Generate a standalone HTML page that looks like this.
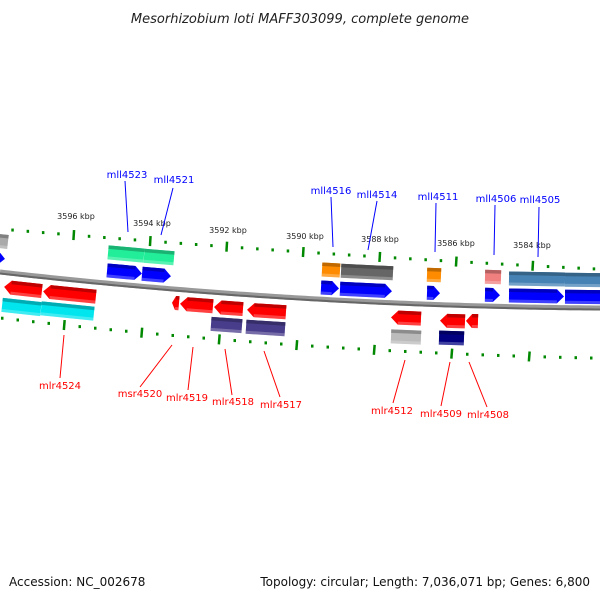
<!DOCTYPE html>
<html><head><meta charset="utf-8"><style>
html,body{margin:0;padding:0;background:#fff;}
svg{display:block;font-family:"DejaVu Sans","Liberation Sans",sans-serif;}
</style></head><body>
<svg id="s" width="600" height="600" viewBox="0 0 600 600" xmlns="http://www.w3.org/2000/svg">
<text x="300" y="23" text-anchor="middle" font-size="13" font-style="italic" fill="#222">Mesorhizobium loti MAFF303099, complete genome</text>
<text x="9" y="586" font-size="12" fill="#111">Accession: NC_002678</text>
<text x="590" y="586" text-anchor="end" font-size="12" fill="#111">Topology: circular; Length: 7,036,071 bp; Genes: 6,800</text>
<g font-size="8" fill="#222">
<text x="76" y="219" text-anchor="middle">3596 kbp</text>
<text x="152" y="226" text-anchor="middle">3594 kbp</text>
<text x="228" y="233" text-anchor="middle">3592 kbp</text>
<text x="305" y="239" text-anchor="middle">3590 kbp</text>
<text x="380" y="242" text-anchor="middle">3588 kbp</text>
<text x="456" y="246" text-anchor="middle">3586 kbp</text>
<text x="532" y="248" text-anchor="middle">3584 kbp</text>
</g>
<g font-size="10" fill="#00f" text-anchor="middle">
<text x="127" y="178">mll4523</text>
<text x="174" y="183">mll4521</text>
<text x="331" y="194">mll4516</text>
<text x="377" y="198">mll4514</text>
<text x="438" y="200">mll4511</text>
<text x="496" y="202">mll4506</text>
<text x="540" y="203">mll4505</text>
</g>
<g stroke="#00f" stroke-width="1">
<line x1="125" y1="181" x2="128" y2="232"/>
<line x1="173" y1="188" x2="161" y2="235"/>
<line x1="331" y1="197" x2="333" y2="247"/>
<line x1="377" y1="201" x2="368" y2="250"/>
<line x1="436" y1="203" x2="435" y2="252"/>
<line x1="495" y1="205" x2="494" y2="255"/>
<line x1="539" y1="207" x2="538" y2="257"/>
</g>
<g font-size="10" fill="#f00" text-anchor="middle">
<text x="60" y="389">mlr4524</text>
<text x="140" y="397">msr4520</text>
<text x="187" y="401">mlr4519</text>
<text x="233" y="405">mlr4518</text>
<text x="281" y="408">mlr4517</text>
<text x="392" y="414">mlr4512</text>
<text x="441" y="417">mlr4509</text>
<text x="488" y="418">mlr4508</text>
</g>
<g stroke="#f00" stroke-width="1">
<line x1="64" y1="335" x2="60" y2="378"/>
<line x1="172" y1="345" x2="140" y2="387"/>
<line x1="193" y1="347" x2="188" y2="390"/>
<line x1="225" y1="349" x2="232" y2="395"/>
<line x1="264" y1="351" x2="280" y2="397"/>
<line x1="405" y1="360" x2="393" y2="403"/>
<line x1="450" y1="362" x2="441" y2="406"/>
<line x1="469" y1="362" x2="487" y2="407"/>
</g>
<g id="g"></g>
</svg>
<script>
(function(){
var NS="http://www.w3.org/2000/svg",G=document.getElementById("g");
function el(t,a,p){var e=document.createElementNS(NS,t);for(var k in a)e.setAttribute(k,a[k]);(p||G).appendChild(e);return e;}
function fT(x){return 229+0.085*x-0.00003*x*x;}
function fB(x){return 318+0.115*x-0.00008*x*x;}
function bb(x){return 272+0.1133*x-0.0000889*x*x;}
function ang(x){return Math.atan(0.1133-0.000178*x)*180/Math.PI;}
var d="M0,"+bb(0);for(var x=5;x<=600;x+=5)d+=" L"+x+","+bb(x);
el("path",{d:d,fill:"none",stroke:"#999",'stroke-width':"5"});
el("path",{d:d,fill:"none",stroke:"#666",'stroke-width':"2",transform:"translate(0,1.5)"});
function ticks(f,x0,step,sl){var a=Math.atan(sl)*180/Math.PI;
 for(var i=-12;i<45;i++){var x=x0+i*step;if(x<-2||x>602)continue;var y=f(x);
  if(((i%5)+5)%5==0)el("rect",{x:x-1,y:y-5,width:2.5,height:10,fill:"#080",transform:"rotate("+a+" "+x+" "+y+")"});
  else el("rect",{x:x-1,y:y-1.5,width:2.5,height:3,fill:"#080"});}}
ticks(fT,150,15.3,0.06);
ticks(fB,64,15.5,0.08);
function shade(c,f){var r=parseInt(c.substr(1,2),16),g=parseInt(c.substr(3,2),16),b=parseInt(c.substr(5,2),16);
 return "rgb("+Math.min(255,Math.round(r*f))+","+Math.min(255,Math.round(g*f))+","+Math.min(255,Math.round(b*f))+")";}
function gene(x1,x2,yc,col,type){var w=x2-x1,h=14,cx=(x1+x2)/2,a=ang(cx);
 var g=el("g",{transform:"rotate("+a+" "+cx+" "+yc+")"});
 var y0=yc-h/2,p,tip=Math.min(7,w*0.5);
 if(type=="r")p=[[x1,y0],[x2,y0],[x2,y0+h],[x1,y0+h]];
 else if(type=="f")p=[[x1,y0],[x2-tip,y0],[x2,yc],[x2-tip,y0+h],[x1,y0+h]];
 else p=[[x1+tip,y0],[x2,y0],[x2,y0+h],[x1+tip,y0+h],[x1,yc]];
 el("polygon",{points:p.map(function(q){return q.join(",")}).join(" "),fill:col},g);
 var ox=(type=="b")?x1+tip:x1,ww=w-(type=="r"?0:tip);
 el("rect",{x:ox,y:y0,width:ww,height:3.5,fill:shade(col,0.75)},g);
 el("rect",{x:ox,y:y0+h-3,width:ww,height:3,fill:"#fff",opacity:"0.25"},g);}
var B="#0000ff",R="#ff0000";
gene(-10,8,241,"#aaaaaa","r");
gene(108,144,254,"#22ee99","r");gene(144,174,257,"#22ee99","r");
gene(322,340,270,"#ff8c00","r");gene(341,393,272,"#666666","r");
gene(427,441,275,"#ff8c00","r");gene(485,501,277,"#f08080","r");
gene(509,565,279,"#4682b4","r");gene(565,610,280,"#4682b4","r");
gene(-10,5,258,B,"f");
gene(107,142,272,B,"f");gene(142,171,275,B,"f");
gene(321,339,288,B,"f");gene(340,392,290,B,"f");
gene(427,440,293,B,"f");gene(485,500,295,B,"f");
gene(509,564,296,B,"f");gene(565,610,297,B,"f");
gene(4,42,289,R,"b");gene(43,96,294,R,"b");
gene(172,179,303,R,"b");gene(180,213,305,R,"b");gene(214,243,308,R,"b");gene(247,286,311,R,"b");
gene(391,421,318,R,"b");gene(440,465,321,R,"b");gene(466,478,321,R,"b");
gene(2,41,307,"#00e5ee","r");gene(41,94,311,"#00e5ee","r");
gene(211,242,325,"#483d8b","r");gene(246,285,328,"#483d8b","r");
gene(391,421,337,"#bbbbbb","r");gene(439,464,338,"#000080","r");
})();
</script>
</body></html>
